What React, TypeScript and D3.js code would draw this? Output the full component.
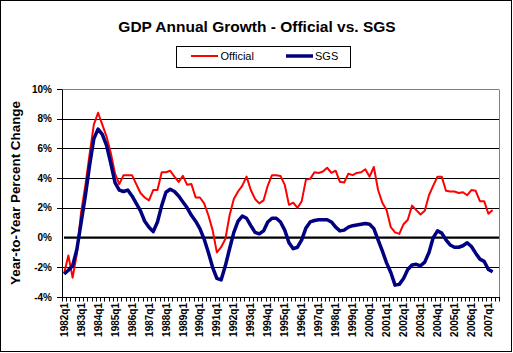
import React from "react";
import * as d3 from "d3";

const years: number[] = d3.range(1982, 2008);
const categories: string[] = [];
years.forEach((y) => [1, 2, 3, 4].forEach((q) => categories.push(`${y}q${q}`)));
const shownCategories = categories.slice(0, 103); // 1982q1 .. 2007q3

const tickLabels = [
  "1982q1", "1983q1", "1984q1", "1985q1", "1986q1", "1987q1", "1988q1", "1989q1",
  "1990q1", "1991q1", "1992q1", "1993q1", "1994q1", "1995q1", "1996q1", "1997q1",
  "1998q1", "1999q1", "2000q1", "2001q1", "2002q1", "2003q1", "2004q1", "2005q1",
  "2006q1", "2007q1",
];

const yTicks = [-4, -2, 0, 2, 4, 6, 8, 10];

const official = [
  -2.4, -1.2, -2.7, -1.1, 1.7, 3.5, 5.6, 7.6, 8.4, 7.6,
  6.8, 5.7, 4.3, 3.6, 4.2, 4.2, 4.2, 3.6, 3.0, 2.7,
  2.5, 3.2, 3.2, 4.4, 4.4, 4.5, 4.1, 3.75, 4.15, 3.55,
  3.6, 2.7, 2.7, 2.3, 1.5, 0.5, -1.0, -0.65, -0.1, 1.5,
  2.6, 3.1, 3.5, 4.1, 3.2, 2.6, 2.3, 2.5, 3.5, 4.2,
  4.2, 4.15, 3.55, 2.2, 2.35, 2.0, 2.45, 3.9, 3.95, 4.4,
  4.35, 4.45, 4.7, 4.35, 4.5, 3.75, 3.7, 4.3, 4.2, 4.35,
  4.4, 4.6, 4.1, 4.75, 3.2, 2.35, 1.85, 0.7, 0.35, 0.25,
  0.9, 1.2, 2.15, 1.85, 1.55, 1.8, 2.85, 3.5, 4.1, 4.1,
  3.15, 3.1, 3.1, 3.0, 3.05, 2.85, 3.2, 3.15, 2.45, 2.45,
  1.6, 1.85,
];

const sgs = [
  -2.45, -2.2, -1.9, -0.8, 1.0, 2.8, 4.85, 6.65, 7.3, 6.95,
  6.2, 5.0, 3.7, 3.2, 3.1, 3.2, 2.8, 2.3, 1.8, 1.1,
  0.7, 0.4, 1.05, 2.15, 3.05, 3.25, 3.1, 2.8, 2.4, 2.0,
  1.5, 1.1, 0.6, -0.1, -1.0, -2.0, -2.75, -2.85, -1.9, -0.75,
  0.35, 1.1, 1.45, 1.3, 0.8, 0.35, 0.25, 0.45, 1.05, 1.3,
  1.3, 1.05, 0.5, -0.35, -0.75, -0.65, -0.15, 0.65, 1.05, 1.15,
  1.2, 1.2, 1.2, 1.05, 0.7, 0.45, 0.5, 0.7, 0.8, 0.85,
  0.9, 0.95, 0.9, 0.6, -0.15, -0.9, -1.7, -2.35, -3.2, -3.15,
  -2.75, -2.15, -1.85, -1.8, -1.9, -1.65, -1.0, 0.0, 0.45, 0.3,
  -0.15, -0.5, -0.65, -0.65, -0.55, -0.35, -0.6, -1.05, -1.45, -1.6,
  -2.15, -2.3,
];

const FONT = "'Liberation Sans', Arial, sans-serif";

export default function App() {
  const W = 513;
  const H = 353;
  const left = 62;
  const right = 499;
  const top = 89;
  const bottom = 297;

  const x = d3.scaleBand<string>().domain(shownCategories).range([left, right]).padding(0);
  const cx = (c: string) => (x(c) as number) + x.bandwidth() / 2;
  const y = d3.scaleLinear().domain([-4, 10]).range([bottom, top]);
  const py = (v: number) => Math.round(y(v)) + 0.5;

  const line = d3
    .line<number>()
    .x((_, i) => cx(shownCategories[i]))
    .y((d) => y(d));

  return (
    <svg
      width={W}
      height={H}
      style={{ position: "absolute", left: 0, top: 0, background: "#fff" }}
      fontFamily={FONT}
    >
      <rect x={0.5} y={0.5} width={511} height={351} fill="#fff" stroke="#000" />
      <text x={257} y={31.5} textAnchor="middle" fontSize={15.5} fontWeight="bold">
        GDP Annual Growth - Official vs. SGS
      </text>

      {/* legend */}
      <rect x={176.5} y={46.5} width={174} height={21} fill="#fff" stroke="#000" />
      <line x1={191} x2={218} y1={56} y2={56} stroke="#ff0000" strokeWidth={2} />
      <text x={220.5} y={60} fontSize={11}>Official</text>
      <line x1={286} x2={313} y1={56} y2={56} stroke="#000080" strokeWidth={3.5} />
      <text x={315} y={60} fontSize={11}>SGS</text>

      {/* gridlines */}
      {yTicks
        .filter((t) => t !== 0 && t !== 10 && t !== -4)
        .map((t) => (
          <line key={t} x1={left} x2={right} y1={py(t)} y2={py(t)} stroke="#000" strokeWidth={1} />
        ))}
      <line x1={left} x2={right} y1={py(10)} y2={py(10)} stroke="#808080" strokeWidth={1} />
      <line x1={right + 0.5} x2={right + 0.5} y1={py(10)} y2={py(-4)} stroke="#808080" strokeWidth={1} />

      {/* y axis */}
      <line x1={left + 0.5} x2={left + 0.5} y1={py(10)} y2={py(-4)} stroke="#000" />
      {yTicks.map((t) => (
        <g key={t}>
          {t !== 0 && <line x1={left - 5} x2={left} y1={py(t)} y2={py(t)} stroke="#000" />}
          <text x={52} y={y(t)} dy="0.36em" textAnchor="end" fontSize={10} fontWeight="bold">
            {`${t}%`}
          </text>
        </g>
      ))}
      <text
        transform={`translate(20,193) rotate(-90)`}
        textAnchor="middle"
        fontSize={12}
        fontWeight="bold"
        textLength={184}
        lengthAdjust="spacingAndGlyphs"
      >
        Year-to-Year Percent Change
      </text>

      {/* x axis */}
      <line x1={left} x2={right + 1} y1={py(-4)} y2={py(-4)} stroke="#000" />
      {shownCategories.map((c) => (
        <line key={c} x1={Math.round(x(c) as number) + 0.5} x2={Math.round(x(c) as number) + 0.5} y1={py(-4)} y2={py(-4) + 4} stroke="#000" />
      ))}
      <line x1={right + 0.5} x2={right + 0.5} y1={py(-4)} y2={py(-4) + 4} stroke="#000" />
      {tickLabels.map((t) => (
        <text
          key={t}
          transform={`translate(${cx(t) + 3.6},303) rotate(-90)`}
          textAnchor="end"
          fontSize={10}
          fontWeight="bold"
        >
          {t}
        </text>
      ))}

      {/* zero line */}
      <line x1={left + 2} x2={right} y1={y(0)} y2={y(0)} stroke="#000" strokeWidth={2.2} />

      {/* series */}
      <path d={line(official) || ""} fill="none" stroke="#ff0000" strokeWidth={2} strokeLinejoin="round" />
      <path d={line(sgs) || ""} fill="none" stroke="#000080" strokeWidth={3.5} strokeLinejoin="round" />
    </svg>
  );
}
